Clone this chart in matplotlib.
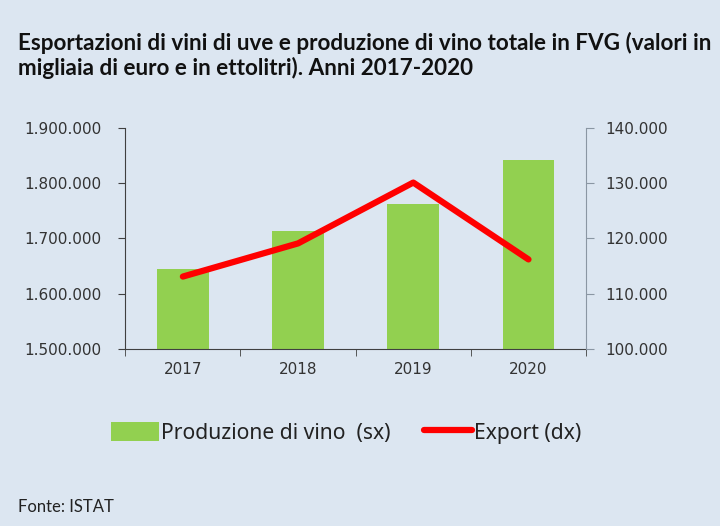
import matplotlib
matplotlib.use("Agg")
import matplotlib.pyplot as plt
from matplotlib.ticker import FuncFormatter

# data
years = ["2017", "2018", "2019", "2020"]
produzione = [1644000, 1714000, 1763000, 1842000]   # hl, left axis
export = [113100, 119100, 130100, 116200]           # thousands of euro, right axis

bg = "#dce6f1"
green = "#92d050"
red = "#ff0000"


def dots(v, pos):
    return f"{int(v):,}".replace(",", ".")


fig = plt.figure(figsize=(7.2, 5.26), dpi=100, facecolor=bg)
ax = fig.add_axes([0.174, 0.3365, 0.64, 0.4205], facecolor=bg)
ax2 = ax.twinx()

x = range(len(years))
bars = ax.bar(x, produzione, width=0.45, color=green, zorder=2)
line, = ax2.plot(x, export, color=red, linewidth=4.5, solid_capstyle="round", zorder=3)

ax.set_xlim(-0.5, 3.5)
ax.set_ylim(1500000, 1900000)
ax.set_yticks(range(1500000, 1900001, 100000))
ax2.set_ylim(100000, 140000)
ax2.set_yticks(range(100000, 140001, 10000))
ax.yaxis.set_major_formatter(FuncFormatter(dots))
ax2.yaxis.set_major_formatter(FuncFormatter(dots))

ax.set_xticks(x)
ax.set_xticklabels(years)
# tick marks between categories
ax.set_xticks([-0.5, 0.5, 1.5, 2.5, 3.5], minor=True)
ax.tick_params(axis="x", which="major", length=0, pad=9, labelsize=11, labelcolor="#333333")
ax.tick_params(axis="x", which="minor", length=5, color="#404040", direction="out")
ax.tick_params(axis="y", length=5, color="#404040", labelsize=11, labelcolor="#333333", pad=12)
ax2.tick_params(axis="y", length=6, color="#8a96a3", labelsize=11, labelcolor="#333333", pad=8)

for a in (ax, ax2):
    a.spines["top"].set_visible(False)
ax.spines["right"].set_visible(False)
ax2.spines["left"].set_visible(False)
ax2.spines["bottom"].set_visible(False)
ax.spines["left"].set_color("#404040")
ax.spines["bottom"].set_color("#404040")
ax2.spines["right"].set_color("#8a96a3")

fig.legend([bars, line], ["Produzione di vino  (sx)", "Export (dx)"],
           loc="center", bbox_to_anchor=(0.481, 0.177), ncol=2, frameon=False,
           prop={"family": "Noto Sans", "size": 15.2}, handlelength=2.27,
           handletextpad=0.1, columnspacing=1.56, handleheight=1.0,
           labelcolor="#222222")

fig.text(0.025, 0.94, "Esportazioni di vini di uve e produzione di vino totale in FVG (valori in\n"
         "migliaia di euro e in ettolitri). Anni 2017-2020",
         fontfamily="Lato", fontweight="bold", fontsize=16.2, va="top", ha="left",
         linespacing=1.2, color="#111111")
fig.text(0.025, 0.027, "Fonte: ISTAT", fontfamily="Lato", fontsize=12, color="#222222")

fig.savefig("out.png", dpi=100, facecolor=bg)
